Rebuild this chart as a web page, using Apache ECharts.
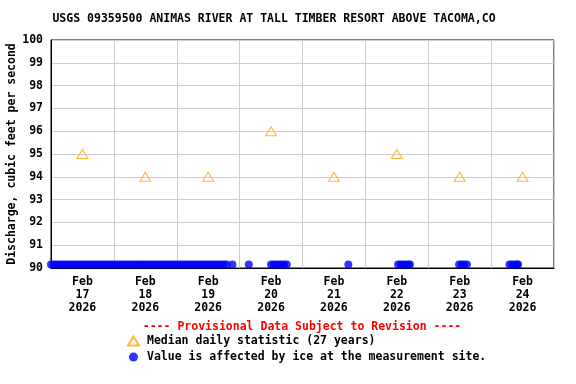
<!DOCTYPE html>
<html>
<head>
<meta charset="utf-8">
<script src="https://cdn.jsdelivr.net/npm/echarts@6/dist/echarts.min.js"></script>
<style>html,body{margin:0;padding:0;background:#fff}#c{width:576px;height:384px}</style>
</head>
<body>
<div id="c"></div>
<script>
const titleText = 'USGS 09359500 ANIMAS RIVER AT TALL TIMBER RESORT ABOVE TACOMA,CO';
const dayLabels = ['Feb\n17\n2026','Feb\n18\n2026','Feb\n19\n2026','Feb\n20\n2026','Feb\n21\n2026','Feb\n22\n2026','Feb\n23\n2026','Feb\n24\n2026'];
const medianTimes = ['2026-02-17 12:00','2026-02-18 12:00','2026-02-19 12:00','2026-02-20 12:00','2026-02-21 12:00','2026-02-22 12:00','2026-02-23 12:00','2026-02-24 12:00'];
const medianValues = [95, 94, 94, 96, 94, 95, 94, 94];
const iceTimes = [
 '2026-02-17 00:00','2026-02-17 01:00','2026-02-17 02:00','2026-02-17 03:00','2026-02-17 04:00','2026-02-17 05:00','2026-02-17 06:00','2026-02-17 07:00',
 '2026-02-17 08:00','2026-02-17 09:00','2026-02-17 10:00','2026-02-17 11:00','2026-02-17 12:00','2026-02-17 13:00','2026-02-17 14:00','2026-02-17 15:00',
 '2026-02-17 16:00','2026-02-17 17:00','2026-02-17 18:00','2026-02-17 19:00','2026-02-17 20:00','2026-02-17 21:00','2026-02-17 22:00','2026-02-17 23:00',
 '2026-02-18 00:00','2026-02-18 01:00','2026-02-18 02:00','2026-02-18 03:00','2026-02-18 04:00','2026-02-18 05:00','2026-02-18 06:00','2026-02-18 07:00',
 '2026-02-18 08:00','2026-02-18 09:00','2026-02-18 10:00','2026-02-18 11:00','2026-02-18 12:00','2026-02-18 13:00','2026-02-18 14:00','2026-02-18 15:00',
 '2026-02-18 16:00','2026-02-18 17:00','2026-02-18 18:00','2026-02-18 19:00','2026-02-18 20:00','2026-02-18 21:00','2026-02-18 22:00','2026-02-18 23:00',
 '2026-02-19 00:00','2026-02-19 01:00','2026-02-19 02:00','2026-02-19 03:00','2026-02-19 04:00','2026-02-19 05:00','2026-02-19 06:00','2026-02-19 07:00',
 '2026-02-19 08:00','2026-02-19 09:00','2026-02-19 10:00','2026-02-19 11:00','2026-02-19 12:00','2026-02-19 13:00','2026-02-19 14:00','2026-02-19 15:00',
 '2026-02-19 16:00','2026-02-19 17:00','2026-02-19 18:00','2026-02-19 19:00','2026-02-19 21:15',
 '2026-02-20 03:30',
 '2026-02-20 12:00','2026-02-20 13:00','2026-02-20 14:00','2026-02-20 15:00','2026-02-20 16:00','2026-02-20 17:00','2026-02-20 18:00',
 '2026-02-21 17:30',
 '2026-02-22 12:30','2026-02-22 13:30','2026-02-22 14:30','2026-02-22 15:30','2026-02-22 16:30','2026-02-22 17:00',
 '2026-02-23 11:45','2026-02-23 12:45','2026-02-23 13:45','2026-02-23 14:45',
 '2026-02-24 07:00','2026-02-24 08:00','2026-02-24 09:00','2026-02-24 10:00','2026-02-24 10:15'
];
const iceValues = [
 90.15,90.15,90.15,90.15,90.15,90.15,90.15,90.15,90.15,90.15,90.15,90.15,90.15,90.15,90.15,90.15,90.15,90.15,90.15,90.15,90.15,90.15,90.15,90.15,
 90.15,90.15,90.15,90.15,90.15,90.15,90.15,90.15,90.15,90.15,90.15,90.15,90.15,90.15,90.15,90.15,90.15,90.15,90.15,90.15,90.15,90.15,90.15,90.15,
 90.15,90.15,90.15,90.15,90.15,90.15,90.15,90.15,90.15,90.15,90.15,90.15,90.15,90.15,90.15,90.15,90.15,90.15,90.15,90.15,90.15,
 90.15,
 90.15,90.15,90.15,90.15,90.15,90.15,90.15,
 90.15,
 90.15,90.15,90.15,90.15,90.15,90.15,
 90.15,90.15,90.15,90.15,
 90.15,90.15,90.15,90.15,90.15
];
const yTicks = {min: 90, max: 100, step: 1};

const FONT = '"DejaVu Sans Mono", "Liberation Mono", monospace';
const chart = echarts.init(document.getElementById('c'), null, {renderer: 'canvas'});
chart.setOption({
  animation: false,
  backgroundColor: '#fff',
  grid: {left: 51, right: 22, top: 40, bottom: 116, show: true, borderColor: '#000', borderWidth: 1, containLabel: false, outerBoundsMode: 'none'},
  graphic: [
    {type: 'text', x: 274, y: 19, style: {text: titleText, align: 'center', verticalAlign: 'middle', font: 'bold 11.5px ' + FONT, fill: '#000'}},
    {type: 'text', x: 302, y: 327, style: {text: '---- Provisional Data Subject to Revision ----', align: 'center', verticalAlign: 'middle', font: 'bold 11.5px ' + FONT, fill: '#ff0000'}}
  ],
  legend: {
    orient: 'vertical', left: 127, top: 335, padding: 0, itemWidth: 11, itemHeight: 9, itemGap: 4,
    textStyle: {fontFamily: FONT, fontWeight: 'bold', fontSize: 11.5, color: '#000', padding: [0,0,0,3]},
    data: ['Median daily statistic (27 years)', 'Value is affected by ice at the measurement site.']
  },
  xAxis: [
    {type: 'category', data: dayLabels, boundaryGap: true, gridIndex: 0,
     axisLine: {show: true, lineStyle: {color: '#000', width: 1}}, axisTick: {show: false},
     splitLine: {show: true, interval: 0, lineStyle: {color: '#cccccc', width: 1}},
     axisLabel: {interval: 0, margin: 8, fontFamily: FONT, fontWeight: 'bold', fontSize: 11.5, lineHeight: 13, color: '#000'}},
    {type: 'time', min: '2026-02-17 00:00', max: '2026-02-25 00:00', show: false, gridIndex: 0}
  ],
  yAxis: {type: 'value', min: yTicks.min, max: yTicks.max, interval: yTicks.step,
    axisLine: {show: true, lineStyle: {color: '#000'}}, axisTick: {show: false},
    splitLine: {show: true, lineStyle: {color: '#cccccc', width: 1}},
    axisLabel: {margin: 8, fontFamily: FONT, fontWeight: 'bold', fontSize: 11.5, color: '#000'},
    name: 'Discharge, cubic feet per second', nameLocation: 'middle', nameGap: 33, nameRotate: 90, nameMoveOverlap: false,
    nameTextStyle: {fontFamily: FONT, fontWeight: 'bold', fontSize: 11.5, color: '#000'}},
  series: [
    {name: 'Median daily statistic (27 years)', type: 'scatter', xAxisIndex: 1, symbol: 'triangle', symbolSize: [11, 9],
     itemStyle: {color: 'rgba(255,255,255,0)', borderColor: '#ffa500', borderWidth: 1},
     data: medianTimes.map((t, i) => [t, medianValues[i]]), z: 3},
    {name: 'Value is affected by ice at the measurement site.', type: 'scatter', xAxisIndex: 1, symbol: 'circle', symbolSize: 8,
     itemStyle: {color: '#0000ff'}, clip: false,
     data: iceTimes.map((t, i) => [t, iceValues[i]]), z: 4}
  ]
});
</script>
</body>
</html>
